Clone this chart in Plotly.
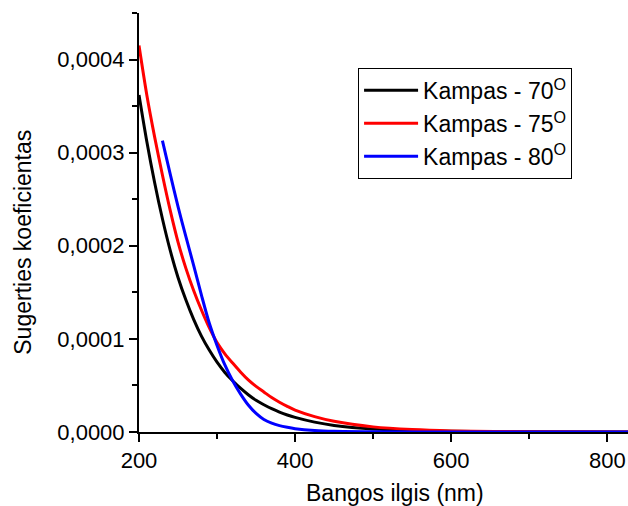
import plotly.graph_objects as go

# Wavelength grid (nm) and absorption coefficient for each incidence angle
wl_70 = [200, 210, 220, 230, 240, 250, 260, 270, 280, 290, 300, 310, 320, 330,
         340, 350, 360, 370, 380, 390, 400, 425, 450, 500, 550, 600, 700, 830]
abs_70 = [3.62e-4, 3.12e-4, 2.68e-4, 2.29e-4, 1.95e-4, 1.66e-4, 1.42e-4, 1.21e-4,
          1.03e-4, 0.88e-4, 0.75e-4, 0.64e-4, 0.55e-4, 0.47e-4, 0.40e-4, 0.34e-4,
          0.293e-4, 0.25e-4, 0.214e-4, 0.183e-4, 0.157e-4, 0.106e-4, 0.071e-4,
          0.032e-4, 0.015e-4, 0.007e-4, 0.0014e-4, 0.0]

wl_75 = [200, 210, 220, 230, 240, 250, 260, 270, 280, 290, 300, 310, 320, 330,
         340, 350, 360, 370, 380, 390, 400, 425, 450, 500, 550, 600, 700, 830]
abs_75 = [4.15e-4, 3.62e-4, 3.17e-4, 2.76e-4, 2.38e-4, 2.04e-4, 1.76e-4, 1.52e-4,
          1.31e-4, 1.12e-4, 0.96e-4, 0.84e-4, 0.74e-4, 0.645e-4, 0.56e-4, 0.49e-4,
          0.43e-4, 0.37e-4, 0.32e-4, 0.275e-4, 0.235e-4, 0.165e-4, 0.115e-4,
          0.055e-4, 0.026e-4, 0.012e-4, 0.003e-4, 0.0]

wl_80 = [230, 240, 250, 260, 270, 280, 290, 300, 310, 320, 330, 340, 350, 360,
         370, 380, 390, 400, 425, 450, 500, 600, 830]
abs_80 = [3.13e-4, 2.77e-4, 2.42e-4, 2.10e-4, 1.79e-4, 1.47e-4, 1.17e-4, 0.93e-4,
          0.72e-4, 0.55e-4, 0.41e-4, 0.29e-4, 0.20e-4, 0.135e-4, 0.095e-4, 0.068e-4,
          0.05e-4, 0.036e-4, 0.016e-4, 0.007e-4, 0.002e-4, 0.0, 0.0]

series = [
    ("Kampas - 70<sup>O</sup>", wl_70, abs_70, "#000000"),
    ("Kampas - 75<sup>O</sup>", wl_75, abs_75, "#FF0000"),
    ("Kampas - 80<sup>O</sup>", wl_80, abs_80, "#0000FF"),
]

FONT = "Arial, Liberation Sans, sans-serif"

fig = go.Figure()
for name, x, y, color in series:
    fig.add_trace(go.Scatter(x=x, y=y, mode="lines", name=name,
                             line=dict(color=color, width=3, shape="spline",
                                       smoothing=0.8)))

fig.update_xaxes(range=[200, 826.5], tickmode="linear", tick0=200, dtick=200,
                 showline=True, linewidth=2, linecolor="black",
                 ticks="outside", ticklen=8, tickwidth=2, tickcolor="black",
                 showgrid=False, zeroline=False,
                 tickfont=dict(family=FONT, size=22, color="black"),
                 minor=dict(tickmode="linear", tick0=200, dtick=100,
                            ticks="outside", ticklen=5, tickwidth=2,
                            tickcolor="black", showgrid=False))
fig.update_yaxes(range=[0, 0.00045], tickmode="linear", tick0=0, dtick=0.0001,
                 tickformat=".4f",
                 showline=True, linewidth=2, linecolor="black",
                 ticks="outside", ticklen=8, tickwidth=2, tickcolor="black",
                 showgrid=False, zeroline=False,
                 tickfont=dict(family=FONT, size=22, color="black"),
                 minor=dict(tickmode="linear", tick0=0, dtick=0.00005,
                            ticks="outside", ticklen=5, tickwidth=2,
                            tickcolor="black", showgrid=False))

fig.add_annotation(text="Bangos ilgis (nm)", xref="paper", yref="paper",
                   x=0.5235, y=-0.1456, xanchor="center", yanchor="middle",
                   showarrow=False, font=dict(family=FONT, size=23, color="black"))
fig.add_annotation(text="Sugerties koeficientas", xref="paper", yref="paper",
                   x=-0.237, y=0.452, xanchor="center", yanchor="middle",
                   textangle=-90, showarrow=False,
                   font=dict(family=FONT, size=23, color="black"))

fig.update_layout(
    width=628, height=506,
    margin=dict(l=139, r=0, t=13, b=74),
    paper_bgcolor="white", plot_bgcolor="white",
    separators=",.",
    showlegend=True,
    legend=dict(x=0.448, y=0.869, xanchor="left", yanchor="top",
                bordercolor="black", borderwidth=1, bgcolor="white",
                font=dict(family=FONT, size=23, color="black"),
                itemwidth=54, tracegroupgap=0),
)

fig.write_html("out.html")
